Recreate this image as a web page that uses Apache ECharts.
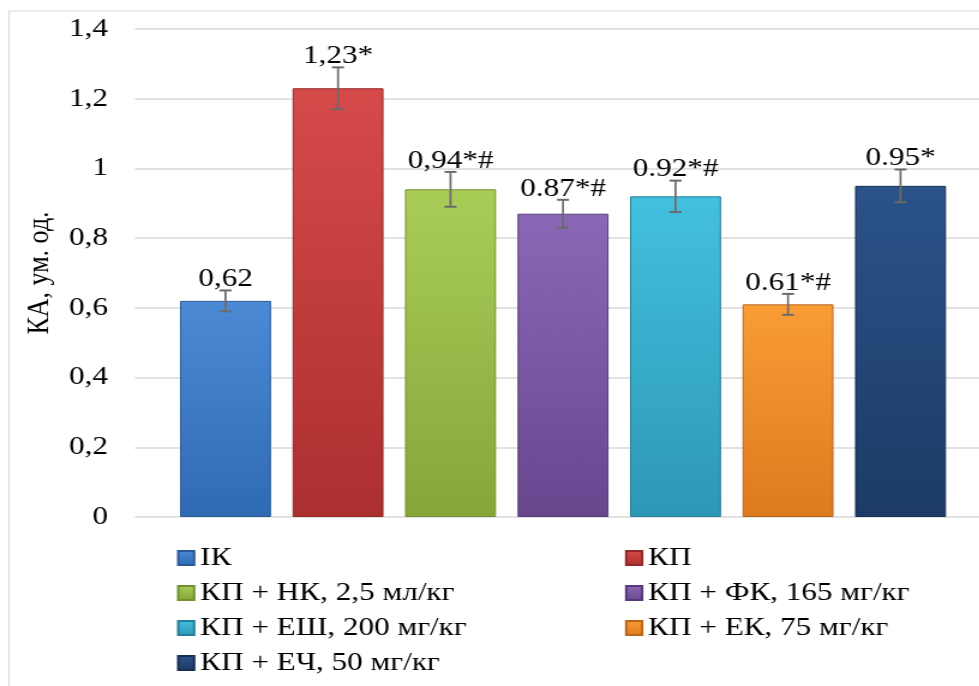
<!DOCTYPE html>
<html>
<head>
<meta charset="utf-8">
<script src="https://cdn.jsdelivr.net/npm/echarts@6/dist/echarts.min.js"></script>
<style>
  html, body { margin: 0; padding: 0; background: #ffffff; overflow: hidden; }
  /* the chart is laid out narrow and widened horizontally, giving the wide-set type of the figure */
  #chart { width: 816px; height: 686px; transform: scaleX(1.2); transform-origin: 0 0; }
</style>
</head>
<body>
<div id="chart"></div>
<script>
// Group names (legend / series names)
const groups = [
  'ІК',
  'КП',
  'КП + НК, 2,5 мл/кг',
  'КП + ФК, 165 мг/кг',
  'КП + ЕШ, 200 мг/кг',
  'КП + ЕК, 75 мг/кг',
  'КП + ЕЧ, 50 мг/кг'
];
// Mean values, КА (ум. од.)
const values = [0.62, 1.23, 0.94, 0.87, 0.92, 0.61, 0.95];
// Error bar half-widths
const errors = [0.03, 0.06, 0.05, 0.04, 0.045, 0.03, 0.047];
// Value labels drawn above each bar
const valueLabels = ['0,62', '1,23*', '0,94*#', '0.87*#', '0.92*#', '0.61*#', '0.95*'];
// Y axis tick labels
const yTickLabels = ['0', '0,2', '0,4', '0,6', '0,8', '1', '1,2', '1,4'];

// Bar fill colours: [top, bottom]
const barColors = [
  ['#4d8ad6', '#2f6bb3'],
  ['#d64a4a', '#ac2f2f'],
  ['#aacd58', '#86a63a'],
  ['#8b68b5', '#69478f'],
  ['#43c0de', '#2d98b6'],
  ['#fa9d35', '#de7a1f'],
  ['#2b5389', '#1c3b66']
];
const barBorders = ['#2a5a96', '#922828', '#72902e', '#573a7a', '#247f99', '#b9651a', '#162f52'];

const FONT = '"Liberation Serif", "DejaVu Serif", serif';
const FS = 26;

function fill(i) {
  return new echarts.graphic.LinearGradient(0, 0, 0, 1, [
    { offset: 0, color: barColors[i][0] },
    { offset: 1, color: barColors[i][1] }
  ]);
}

const barSeries = groups.map((name, i) => ({
  name: name,
  type: 'bar',
  stack: 'all',
  xAxisIndex: 1,
  yAxisIndex: 1,
  barWidth: 75.8,
  data: values.map((v, j) => (j === i ? v : null)),
  itemStyle: { color: fill(i), borderColor: barBorders[i], borderWidth: 1 },
  emphasis: { disabled: true },
  z: 2
}));

const errorSeries = {
  type: 'custom',
  xAxisIndex: 1,
  yAxisIndex: 1,
  z: 5,
  data: values.map((v, i) => [i, v, errors[i]]),
  renderItem: function (params, api) {
    const i = api.value(0);
    const v = api.value(1);
    const e = api.value(2);
    const top = api.coord([i, v + e]);
    const bot = api.coord([i, v - e]);
    const cap = 5;
    const vStyle = { stroke: '#6b6b6b', lineWidth: 1.7 };
    const hStyle = { stroke: '#6b6b6b', lineWidth: 2 };
    return {
      type: 'group',
      children: [
        { type: 'line', shape: { x1: top[0], y1: top[1], x2: bot[0], y2: bot[1] }, style: vStyle },
        { type: 'line', shape: { x1: top[0] - cap, y1: top[1], x2: top[0] + cap, y2: top[1] }, style: hStyle },
        { type: 'line', shape: { x1: bot[0] - cap, y1: bot[1], x2: bot[0] + cap, y2: bot[1] }, style: hStyle },
        {
          type: 'text',
          style: {
            text: valueLabels[i],
            x: top[0],
            y: top[1] + 2,
            align: 'center',
            verticalAlign: 'bottom',
            font: FS + 'px ' + FONT,
            fill: '#000000'
          }
        }
      ]
    };
  }
};

const leftCol = [groups[0], groups[2], groups[4], groups[6]];
const rightCol = [groups[1], groups[3], groups[5]];
const legendCommon = {
  orient: 'vertical',
  top: 545,
  padding: 0,
  itemWidth: 13.3,
  itemHeight: 14,
  itemGap: 9,
  icon: 'rect',
  selectedMode: false,
  textStyle: { fontFamily: FONT, fontSize: FS, color: '#000000', lineHeight: 26 }
};

const chart = echarts.init(document.getElementById('chart'), null, { renderer: 'canvas' });
chart.setOption({
  animation: false,
  backgroundColor: '#ffffff',
  graphic: [{
    type: 'rect',
    shape: { x: 7.5, y: 11, width: 900, height: 700 },
    style: { fill: 'none', stroke: '#d9d9d9', lineWidth: 1.2 },
    silent: true,
    z: -1
  }],
  legend: [
    Object.assign({ left: 147.5, data: leftCol }, legendCommon),
    Object.assign({ left: 520.8, data: rightCol }, legendCommon)
  ],
  grid: [
    { left: 112.5, right: 0, top: 29, bottom: 169 },
    { left: 141.04, width: 656.25, top: 29, bottom: 169 }
  ],
  xAxis: [
    { gridIndex: 0, type: 'value', show: false, min: 0, max: 1 },
    {
      gridIndex: 1, type: 'category', data: groups,
      axisLine: { show: false }, axisTick: { show: false }, axisLabel: { show: false }
    }
  ],
  yAxis: [
    {
      gridIndex: 0,
      type: 'value',
      min: 0, max: 1.4, interval: 0.2,
      name: 'КА, ум. од.',
      nameLocation: 'middle',
      nameGap: 61,
      nameTextStyle: { fontFamily: FONT, fontSize: FS, color: '#000000' },
      axisLine: { show: false },
      axisTick: { show: false },
      axisLabel: {
        margin: 22.5,
        fontFamily: FONT, fontSize: FS, color: '#000000',
        formatter: function (v) { return yTickLabels[Math.round(v / 0.2)]; }
      },
      splitLine: { show: true, lineStyle: { color: '#d9d9d9', width: 1.5 } }
    },
    { gridIndex: 1, type: 'value', min: 0, max: 1.4, interval: 0.2, show: false, splitLine: { show: false } }
  ],
  series: barSeries.concat([errorSeries])
});
</script>
</body>
</html>
